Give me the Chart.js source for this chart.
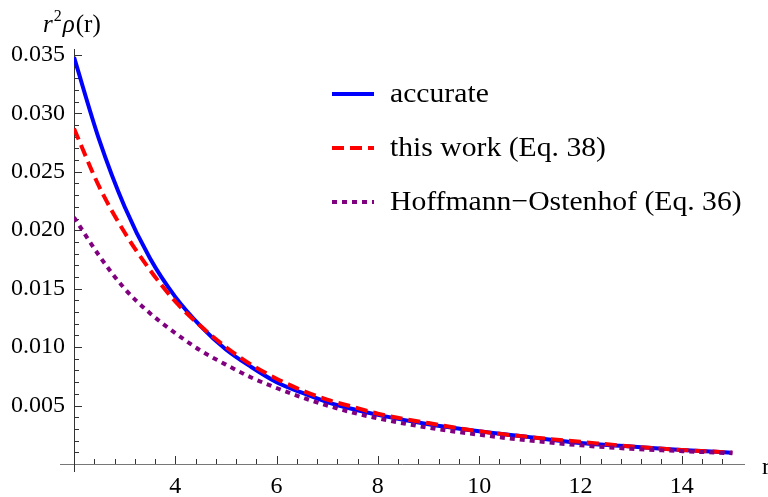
<!DOCTYPE html>
<html>
<head>
<meta charset="utf-8">
<script src="https://cdn.jsdelivr.net/npm/chart.js@4.4.1/dist/chart.umd.min.js"></script>
<style>
  html, body { margin: 0; padding: 0; background: #fff; }
  #wrap { width: 768px; height: 497px; }
</style>
</head>
<body>
<div id="wrap"><canvas id="c" width="768" height="497"></canvas></div>
<script>
// radial distance r and the three r^2 rho(r) curves
const rVals     = [2, 2.5, 3, 3.5, 4, 4.5, 5, 5.5, 6, 6.5, 7, 7.5, 8, 9, 10, 11, 12, 13, 14, 15];
const accurate  = [0.0348, 0.0277, 0.0220, 0.0176, 0.0143, 0.0118, 0.0098, 0.0083, 0.0070, 0.0061, 0.0053, 0.0047, 0.0042, 0.0034, 0.0028, 0.0023, 0.0018, 0.0015, 0.0012, 0.00097];
const thisWork  = [0.0287, 0.0237, 0.0198, 0.0166, 0.0139, 0.0118, 0.0100, 0.0085, 0.0073, 0.0063, 0.0055, 0.0049, 0.0043, 0.0035, 0.0028, 0.0023, 0.0019, 0.0015, 0.0012, 0.00098];
const hoffmann  = [0.0211, 0.0178, 0.0150, 0.0129, 0.0112, 0.0097, 0.0085, 0.0074, 0.0065, 0.0057, 0.0050, 0.0044, 0.0039, 0.0031, 0.0025, 0.0020, 0.0016, 0.0013, 0.0011, 0.00092];
const seriesLabels = ['accurate', 'this work (Eq. 38)', 'Hoffmann\u2212Ostenhof (Eq. 36)'];
const xTicks = [4, 6, 8, 10, 12, 14];
const yTicks = [0.005, 0.010, 0.015, 0.020, 0.025, 0.030, 0.035];

const SERIF = "'Liberation Serif', 'DejaVu Serif', serif";
const AXIS_COL = '#333';

const pts = ys => rVals.map((r, i) => ({ x: r, y: ys[i] }));

// Mathematica-style axes: lines crossing at (2, 0), ticks pointing inward
const mmaAxes = {
  id: 'mmaAxes',
  beforeDatasetsDraw(chart) {
    const { ctx, chartArea: a, scales: { x, y } } = chart;
    const x0 = x.getPixelForValue(2), y0 = y.getPixelForValue(0);
    ctx.save();
    ctx.lineWidth = 1;
    ctx.strokeStyle = '#777';
    ctx.beginPath();
    ctx.moveTo(a.left - 14, y0 + 0.5); ctx.lineTo(a.right, y0 + 0.5);
    ctx.stroke();
    ctx.strokeStyle = AXIS_COL;
    ctx.beginPath();
    ctx.moveTo(x0 + 0.5, a.top); ctx.lineTo(x0 + 0.5, a.bottom + 8);
    ctx.stroke();

    ctx.beginPath();
    for (let i = 1; i < 33; i++) {
      const v = 2 + i * 0.4;
      const major = Math.abs(v / 2 - Math.round(v / 2)) < 1e-6;
      const px = Math.round(x.getPixelForValue(v)) + 0.5;
      ctx.moveTo(px, y0); ctx.lineTo(px, y0 - (major ? 8 : 5));
    }
    for (let i = 1; i <= 35; i++) {
      const v = i * 0.001;
      const major = i % 5 === 0;
      const py = Math.round(y.getPixelForValue(v)) + 0.5;
      ctx.moveTo(x0, py); ctx.lineTo(x0 + (major ? 8 : 5), py);
    }
    ctx.stroke();
    ctx.restore();
  },
  afterDraw(chart) {
    const { ctx } = chart;
    ctx.save();
    ctx.fillStyle = '#000';
    ctx.textAlign = 'left';
    ctx.textBaseline = 'alphabetic';
    // y axis title r^2 rho(r)
    let tx = 43;
    const base = 32;
    ctx.font = `italic 25px ${SERIF}`;
    ctx.fillText('r', tx, base); tx += ctx.measureText('r').width + 1;
    ctx.font = `16px ${SERIF}`;
    ctx.fillText('2', tx, base - 11); tx += ctx.measureText('2').width + 1;
    ctx.font = `italic 25px ${SERIF}`;
    ctx.fillText('\u03c1', tx, base); tx += ctx.measureText('\u03c1').width + 1;
    ctx.font = `25px ${SERIF}`;
    ctx.fillText('(r)', tx, base);
    // x axis title, at the far right
    ctx.font = `24px ${SERIF}`;
    ctx.fillText('r', 762, 474);

    // legend
    const rows = [94, 148, 202];
    ctx.font = `28px ${SERIF}`;
    ctx.textBaseline = 'middle';
    chart.data.datasets.forEach((ds, i) => {
      ctx.save();
      ctx.strokeStyle = ds.borderColor;
      ctx.lineWidth = ds.borderWidth;
      ctx.setLineDash(ds.borderDash || []);
      ctx.beginPath();
      ctx.moveTo(332, rows[i]); ctx.lineTo(374, rows[i]);
      ctx.stroke();
      ctx.restore();
      ctx.save();
      ctx.translate(390, rows[i] + 1);
      ctx.scale(1.06, 1);
      ctx.fillText(ds.label, 0, 0);
      ctx.restore();
    });
    ctx.restore();
  }
};

new Chart(document.getElementById('c'), {
  type: 'line',
  data: {
    datasets: [
      { label: seriesLabels[0], data: pts(accurate), borderColor: '#0000ff', borderWidth: 4, order: 3 },
      { label: seriesLabels[1], data: pts(thisWork), borderColor: '#ff0000', borderWidth: 4, borderDash: [12, 6], order: 2 },
      { label: seriesLabels[2], data: pts(hoffmann), borderColor: '#800080', borderWidth: 4, borderDash: [5, 5], order: 1 }
    ].map(ds => ({ ...ds, pointRadius: 0, fill: false, cubicInterpolationMode: 'monotone', borderCapStyle: 'butt' }))
  },
  options: {
    responsive: false,
    devicePixelRatio: 1,
    animation: false,
    events: [],
    layout: { padding: { left: 0, top: 49, right: 23, bottom: 0 } },
    plugins: { legend: { display: false }, tooltip: { enabled: false } },
    scales: {
      x: {
        type: 'linear', min: 2, max: 15.25,
        border: { display: false },
        grid: { display: false, drawTicks: false },
        afterBuildTicks: s => { s.ticks = xTicks.map(v => ({ value: v })); },
        afterFit: s => { s.height = 33; },
        ticks: { color: '#000', font: { family: SERIF, size: 24 }, padding: 8, maxRotation: 0, autoSkip: false }
      },
      y: {
        type: 'linear', min: 0, max: 0.0355,
        border: { display: false },
        grid: { display: false, drawTicks: false },
        afterBuildTicks: s => { s.ticks = yTicks.map(v => ({ value: v })); },
        afterFit: s => { s.width = 74; },
        ticks: { color: '#000', font: { family: SERIF, size: 24 }, padding: 9, callback: v => v.toFixed(3) }
      }
    }
  },
  plugins: [mmaAxes]
});
</script>
</body>
</html>
